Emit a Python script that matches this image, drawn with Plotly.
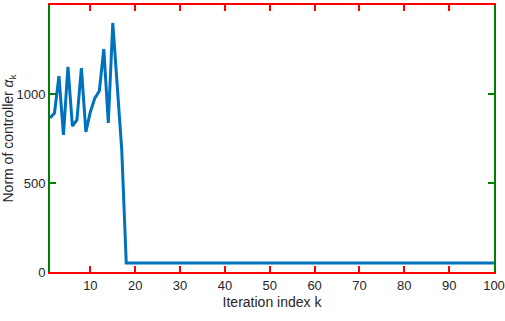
import plotly.graph_objects as go

iterations = list(range(1, 101))
early_values = [865, 893, 1101, 770, 1152, 820, 854, 1146, 787, 899,
                977, 1017, 1253, 837, 1399, 1040, 685, 50]
tail_value = 50
norm_values = early_values + [tail_value] * (100 - len(early_values))

x_ticks = [10, 20, 30, 40, 50, 60, 70, 80, 90, 100]
y_ticks = [0, 500, 1000, 1500]

FONT = "Liberation Sans Narrow, Liberation Sans, Arial, sans-serif"
AX = "#262626"

fig = go.Figure()
fig.add_trace(go.Scatter(x=iterations, y=norm_values, mode="lines",
                         line=dict(color="#0072BD", width=3), showlegend=False))

fig.update_layout(
    width=505, height=321,
    margin=dict(l=50, r=11, t=5, b=49, autoexpand=False),
    plot_bgcolor="white", paper_bgcolor="white",
    font=dict(family=FONT, size=13, color=AX),
)
fig.update_xaxes(range=[1, 100], tickvals=x_ticks, ticks="inside", ticklen=6, tickwidth=2,
                 tickcolor="red", showline=True, linecolor="red", linewidth=2, mirror="ticks",
                 showgrid=False, zeroline=False, automargin=False,
                 title=dict(text="Iteration index k", font=dict(size=14), standoff=6))
fig.update_yaxes(range=[0, 1500], tickvals=y_ticks, ticks="inside", ticklen=6, tickwidth=2,
                 tickcolor="green", showline=True, linecolor="green", linewidth=2, mirror="ticks",
                 showgrid=False, zeroline=False, automargin=False,
                 title=dict(text="Norm of controller <i>α</i><sub>k</sub>", font=dict(size=14), standoff=4))

fig.write_html("out.html", config={"displayModeBar": False},
               post_script="document.body.style.margin='0';document.body.style.overflow='hidden';")
